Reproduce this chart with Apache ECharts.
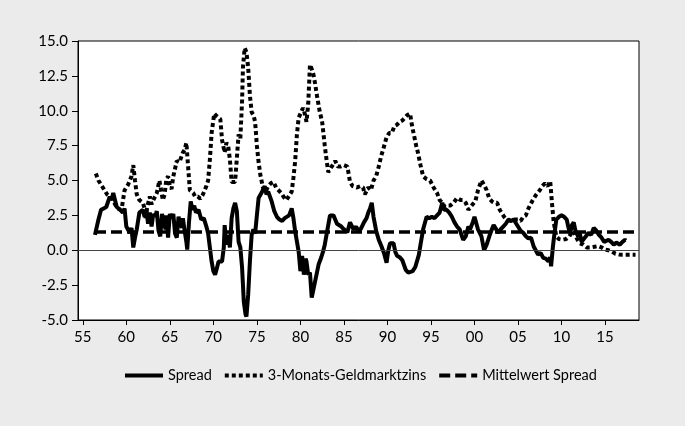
<!DOCTYPE html>
<html>
<head>
<meta charset="utf-8">
<script src="https://cdn.jsdelivr.net/npm/echarts@6/dist/echarts.min.js"></script>
<style>
  html, body { margin: 0; padding: 0; background: #ebebeb; }
  #main { width: 685px; height: 426px; }
</style>
</head>
<body>
<div id="main"></div>
<script>
var spreadYears = [1956.4, 1956.8, 1957.1, 1957.4, 1957.7, 1958.1, 1958.3, 1958.5, 1958.7, 1958.9, 1959.3, 1959.6, 1959.8,
    1960.0, 1960.4, 1960.6, 1960.8, 1961.0, 1961.2, 1961.5, 1961.9, 1962.1, 1962.3, 1962.5, 1962.7, 1962.9,
    1963.1, 1963.3, 1963.5, 1963.7, 1963.9, 1964.1, 1964.3, 1964.5, 1964.6, 1964.8, 1965.0, 1965.2, 1965.4,
    1965.6, 1965.8, 1966.0, 1966.2, 1966.4, 1966.5, 1966.7, 1966.9, 1967.0, 1967.2, 1967.4, 1967.6, 1967.8,
    1968.0, 1968.3, 1968.6, 1968.9, 1969.2, 1969.4, 1969.6, 1969.8, 1970.0, 1970.2, 1970.4, 1970.6, 1970.8,
    1971.0, 1971.2, 1971.3, 1971.5, 1971.7, 1971.9, 1972.1, 1972.3, 1972.5, 1972.7, 1972.9, 1973.1, 1973.3,
    1973.5, 1973.7, 1973.8, 1974.0, 1974.2, 1974.4, 1974.6, 1974.8, 1975.0, 1975.2, 1975.6, 1975.9, 1976.1,
    1976.3, 1976.7, 1977.0, 1977.3, 1977.6, 1977.9, 1978.2, 1978.4, 1978.7, 1979.0, 1979.2, 1979.4, 1979.8,
    1980.0, 1980.2, 1980.4, 1980.6, 1980.7, 1980.9, 1981.1, 1981.3, 1981.5, 1981.7, 1981.9, 1982.1, 1982.4,
    1982.6, 1982.8, 1983.0, 1983.2, 1983.4, 1983.6, 1983.8, 1984.0, 1984.2, 1984.4, 1984.7, 1985.0, 1985.2,
    1985.4, 1985.7, 1986.1, 1986.4, 1986.7, 1987.0, 1987.3, 1987.6, 1987.8, 1988.0, 1988.2, 1988.4, 1988.7,
    1989.0, 1989.3, 1989.6, 1989.9, 1990.1, 1990.3, 1990.5, 1990.7, 1990.9, 1991.1, 1991.4, 1991.7, 1992.1,
    1992.4, 1992.6, 1992.9, 1993.2, 1993.6, 1993.8, 1994.1, 1994.5, 1994.8, 1995.1, 1995.4, 1995.7, 1996.0,
    1996.3, 1996.5, 1996.8, 1997.1, 1997.4, 1997.7, 1998.0, 1998.3, 1998.7, 1999.0, 1999.3, 1999.5, 1999.8,
    2000.0, 2000.4, 2000.8, 2001.1, 2001.4, 2001.7, 2002.0, 2002.2, 2002.5, 2002.7, 2003.0, 2003.3, 2003.6,
    2003.9, 2004.2, 2004.5, 2004.8, 2005.0, 2005.3, 2005.6, 2005.9, 2006.2, 2006.5, 2006.8, 2007.0, 2007.3,
    2007.6, 2007.9, 2008.2, 2008.5, 2008.7, 2008.8, 2009.0, 2009.1, 2009.4, 2009.7, 2010.0, 2010.3, 2010.6,
    2010.8, 2011.0, 2011.2, 2011.4, 2011.6, 2011.9, 2012.1, 2012.3, 2012.5, 2012.8, 2013.1, 2013.4, 2013.7,
    2014.0, 2014.3, 2014.6, 2014.9, 2015.1, 2015.4, 2015.7, 2016.0, 2016.3, 2016.7, 2017.0, 2017.3, 2017.4];
var spreadValues = [1.1, 2.2, 2.9, 3.0, 3.1, 3.85, 3.6, 4.1, 3.6, 3.1, 2.9, 2.7, 3.0,
    1.7, 1.25, 1.6, 0.2, 0.9, 1.5, 2.7, 2.9, 2.4, 2.9, 1.9, 2.7, 1.7,
    2.6, 2.4, 2.8, 1.4, 1.0, 2.6, 2.7, 1.5, 2.5, 0.9, 2.6, 2.3, 2.6,
    1.2, 0.9, 2.4, 2.3, 1.6, 2.3, 1.4, 0.6, 0.05, 2.0, 3.5, 2.9, 3.2,
    2.7, 2.9, 2.2, 2.3, 1.7, 1.2, 0.2, -0.8, -1.5, -1.75, -1.3, -0.8, -0.9,
    -0.8, 0.2, 1.8, 0.4, 1.1, 0.2, 2.3, 3.0, 3.4, 2.8, 0.6, 0.2, -1.25,
    -3.7, -4.6, -4.75, -3.2, -0.8, 1.1, 1.5, 1.2, 2.5, 3.75, 4.2, 4.6, 4.0,
    4.2, 3.5, 2.8, 2.4, 2.2, 2.1, 2.3, 2.4, 2.5, 3.0, 2.3, 1.35, -0.1,
    -1.5, -0.4, -1.75, -0.6, -0.8, -1.75, -1.6, -3.4, -2.8, -2.2, -1.6, -1.0, -0.5,
    -0.1, 0.4, 1.1, 1.8, 2.5, 2.6, 2.5, 2.4, 1.9, 2.0, 1.7, 1.5, 1.6,
    1.3, 2.0, 1.5, 1.7, 1.3, 1.6, 2.0, 2.3, 2.7, 3.0, 3.4, 2.4, 1.4,
    0.75, 0.3, -0.2, -0.9, 0.0, 0.5, 0.6, 0.5, -0.1, -0.4, -0.5, -0.7, -1.4,
    -1.6, -1.6, -1.5, -1.2, -0.35, 0.4, 1.5, 2.4, 2.3, 2.4, 2.3, 2.5, 2.7,
    3.4, 2.9, 2.9, 2.7, 2.4, 2.0, 1.7, 1.5, 0.75, 1.0, 1.7, 1.5, 2.0,
    2.4, 1.5, 1.0, 0.0, 0.4, 1.0, 1.5, 1.8, 1.5, 1.25, 1.5, 1.7, 1.9,
    2.2, 2.1, 2.2, 1.9, 1.7, 1.4, 1.25, 1.0, 0.85, 0.9, 0.27, 0.3, -0.3,
    -0.2, -0.55, -0.6, -0.8, -0.5, -1.15, 0.2, 0.75, 2.2, 2.4, 2.5, 2.4, 2.2,
    1.6, 1.25, 1.8, 2.0, 1.4, 1.0, 1.2, 0.6, 0.5, 1.0, 1.25, 1.1, 1.6,
    1.4, 1.1, 0.9, 0.6, 0.5, 0.75, 0.6, 0.4, 0.55, 0.4, 0.6, 0.75, 0.7];

var rateYears = [1956.5, 1956.8, 1957.0, 1957.3, 1957.5, 1957.8, 1958.1, 1958.4, 1958.7, 1959.0, 1959.3, 1959.5, 1959.8,
    1960.2, 1960.4, 1960.6, 1960.8, 1961.0, 1961.2, 1961.5, 1961.9, 1962.1, 1962.2, 1962.4, 1962.7, 1962.9,
    1963.1, 1963.5, 1963.8, 1964.0, 1964.2, 1964.4, 1964.6, 1964.8, 1965.0, 1965.2, 1965.4, 1965.8, 1966.1,
    1966.5, 1966.7, 1966.9, 1967.1, 1967.3, 1967.7, 1967.9, 1968.2, 1968.5, 1968.8, 1969.0, 1969.2, 1969.4,
    1969.6, 1969.8, 1970.1, 1970.4, 1970.6, 1970.8, 1971.0, 1971.3, 1971.5, 1971.7, 1971.9, 1972.1, 1972.3,
    1972.5, 1972.7, 1972.9, 1973.1, 1973.3, 1973.4, 1973.6, 1973.8, 1974.0, 1974.2, 1974.4, 1974.6, 1974.8,
    1975.0, 1975.2, 1975.4, 1975.7, 1976.0, 1976.3, 1976.6, 1976.9, 1977.2, 1977.5, 1977.8, 1978.1, 1978.4,
    1978.7, 1979.0, 1979.2, 1979.4, 1979.6, 1979.8, 1980.0, 1980.3, 1980.5, 1980.7, 1980.9, 1981.1, 1981.3,
    1981.5, 1981.7, 1981.9, 1982.2, 1982.5, 1982.8, 1983.0, 1983.2, 1983.4, 1983.7, 1984.0, 1984.3, 1984.6,
    1985.0, 1985.4, 1985.7, 1986.0, 1986.5, 1986.9, 1987.2, 1987.4, 1987.8, 1988.1, 1988.4, 1988.7, 1989.0,
    1989.3, 1989.5, 1989.9, 1990.2, 1990.5, 1990.8, 1991.1, 1991.4, 1991.7, 1992.0, 1992.3, 1992.6, 1992.8,
    1993.0, 1993.3, 1993.5, 1993.8, 1994.1, 1994.5, 1994.9, 1995.3, 1995.7, 1996.0, 1996.3, 1996.6, 1996.9,
    1997.2, 1997.6, 1998.0, 1998.4, 1998.7, 1999.0, 1999.3, 1999.5, 1999.8, 2000.1, 2000.4, 2000.8, 2001.1,
    2001.4, 2001.7, 2002.0, 2002.3, 2002.6, 2002.9, 2003.1, 2003.4, 2003.7, 2004.2, 2004.6, 2005.0, 2005.3,
    2005.6, 2005.9, 2006.2, 2006.7, 2007.1, 2007.5, 2007.8, 2008.1, 2008.4, 2008.7, 2008.9, 2009.1, 2009.4,
    2009.7, 2010.1, 2010.5, 2010.9, 2011.3, 2011.5, 2011.8, 2012.1, 2012.5, 2012.9, 2013.4, 2013.8, 2014.2,
    2014.6, 2015.0, 2015.4, 2015.8, 2016.2, 2016.6, 2017.0, 2017.5, 2018.0, 2018.5];
var rateValues = [5.5, 5.0, 4.8, 4.5, 4.3, 4.0, 3.85, 3.7, 3.3, 3.0, 2.9, 3.1, 4.3,
    4.7, 4.8, 5.3, 6.1, 5.0, 4.0, 3.6, 3.4, 3.0, 2.3, 3.1, 3.85, 3.3,
    3.6, 4.1, 5.0, 4.3, 3.6, 4.0, 5.1, 5.3, 4.6, 4.4, 5.3, 6.4, 6.3,
    7.0, 7.2, 7.7, 6.0, 4.3, 4.1, 3.85, 3.85, 3.7, 4.0, 4.3, 4.6, 5.0,
    6.5, 8.4, 9.8, 9.6, 9.7, 9.4, 7.9, 7.0, 7.7, 7.5, 6.5, 4.9, 4.8,
    4.9, 4.8, 8.3, 8.0, 10.7, 13.1, 14.5, 14.2, 13.1, 11.1, 9.9, 9.7, 9.2,
    7.5, 6.3, 5.4, 4.5, 4.2, 4.6, 4.8, 4.9, 4.5, 4.3, 4.1, 3.8, 3.6,
    3.9, 4.2, 5.2, 6.4, 8.3, 9.5, 9.5, 10.2, 9.8, 9.2, 10.5, 13.3, 13.0,
    12.6, 11.9, 11.1, 10.0, 9.2, 7.5, 6.5, 5.6, 5.5, 6.1, 6.4, 6.0, 6.0,
    6.1, 6.0, 4.9, 4.6, 4.5, 4.6, 4.5, 4.0, 4.5, 4.3, 5.0, 5.3, 6.0,
    6.8, 7.2, 8.1, 8.4, 8.4, 8.9, 9.0, 9.2, 9.3, 9.5, 9.7, 9.8, 9.0,
    8.4, 7.5, 7.0, 6.1, 5.3, 5.1, 5.0, 4.5, 4.1, 3.6, 3.4, 3.1, 3.2,
    3.2, 3.4, 3.75, 3.6, 3.6, 3.4, 2.9, 2.9, 3.3, 3.5, 4.3, 5.0, 4.7,
    4.3, 3.7, 3.5, 3.4, 3.4, 2.9, 2.7, 2.4, 2.2, 2.1, 2.2, 2.2, 2.1,
    2.4, 2.5, 3.0, 3.6, 4.0, 4.3, 4.6, 4.8, 4.6, 4.95, 3.4, 2.0, 1.0,
    0.8, 0.75, 0.8, 1.0, 1.4, 1.2, 0.8, 0.5, 0.4, 0.2, 0.2, 0.25, 0.3,
    0.2, 0.05, 0.0, -0.1, -0.25, -0.3, -0.33, -0.33, -0.32, -0.32];

var meanSpread = 1.3;
var meanYears = [1956.4, 2018.5];
var xTickYears = [1955, 1960, 1965, 1970, 1975, 1980, 1985, 1990, 1995, 2000, 2005, 2010, 2015];

function pairs(xs, ys) {
    return xs.map(function (x, i) { return [x, ys[i]]; });
}

var myChart = echarts.init(document.getElementById('main'));
var option = {
    backgroundColor: '#ebebeb',
    animation: false,
    textStyle: { fontFamily: 'Lato' },
    grid: {
        left: 78,
        right: 46,
        top: 41,
        bottom: 106,
        show: true,
        backgroundColor: '#ffffff',
        borderColor: '#000000',
        borderWidth: 1
    },
    legend: {
        bottom: 38,
        left: 118,
        itemWidth: 38,
        itemHeight: 12,
        itemGap: 11,
        itemStyle: { opacity: 0, borderWidth: 0 },
        lineStyle: { width: 4 },
        textStyle: { fontSize: 14.5, color: '#000', fontFamily: 'Lato' },
        data: ['Spread', '3-Monats-Geldmarktzins', 'Mittelwert Spread']
    },
    xAxis: {
        type: 'value',
        min: 1954.45,
        max: 2018.9,
        splitLine: { show: false },
        axisLine: { onZero: false, lineStyle: { color: '#000', width: 1 } },
        axisTick: { customValues: xTickYears, length: 5, lineStyle: { color: '#000' } },
        axisLabel: {
            customValues: xTickYears,
            fontSize: 15,
            color: '#000',
            margin: 10,
            formatter: function (v) {
                var y = Math.round(v) % 100;
                return (y < 10 ? '0' : '') + y;
            }
        }
    },
    yAxis: {
        type: 'value',
        min: -5,
        max: 15,
        interval: 2.5,
        splitLine: { show: false },
        axisLine: { show: true, onZero: false, lineStyle: { color: '#000', width: 1 } },
        axisTick: { show: true, length: 6, lineStyle: { color: '#000' } },
        axisLabel: {
            fontSize: 15,
            color: '#000',
            margin: 10,
            formatter: function (v) { return v.toFixed(1); }
        }
    },
    series: [
        {
            name: 'Spread',
            type: 'line',
            symbol: 'none',
            color: '#000',
            lineStyle: { color: '#000', width: 4, type: 'solid' },
            data: pairs(spreadYears, spreadValues),
            z: 3,
            markLine: {
                silent: true,
                symbol: 'none',
                label: { show: false },
                lineStyle: { color: '#444', width: 1, type: 'solid' },
                data: [{ yAxis: 0 }]
            }
        },
        {
            name: '3-Monats-Geldmarktzins',
            type: 'line',
            symbol: 'none',
            color: '#000',
            lineStyle: { color: '#000', width: 4, type: [4, 3] },
            data: pairs(rateYears, rateValues),
            z: 2
        },
        {
            name: 'Mittelwert Spread',
            type: 'line',
            symbol: 'none',
            color: '#000',
            lineStyle: { color: '#000', width: 3.5, type: [11, 5] },
            data: pairs(meanYears, [meanSpread, meanSpread]),
            z: 2
        }
    ]
};
myChart.setOption(option);
</script>
</body>
</html>
